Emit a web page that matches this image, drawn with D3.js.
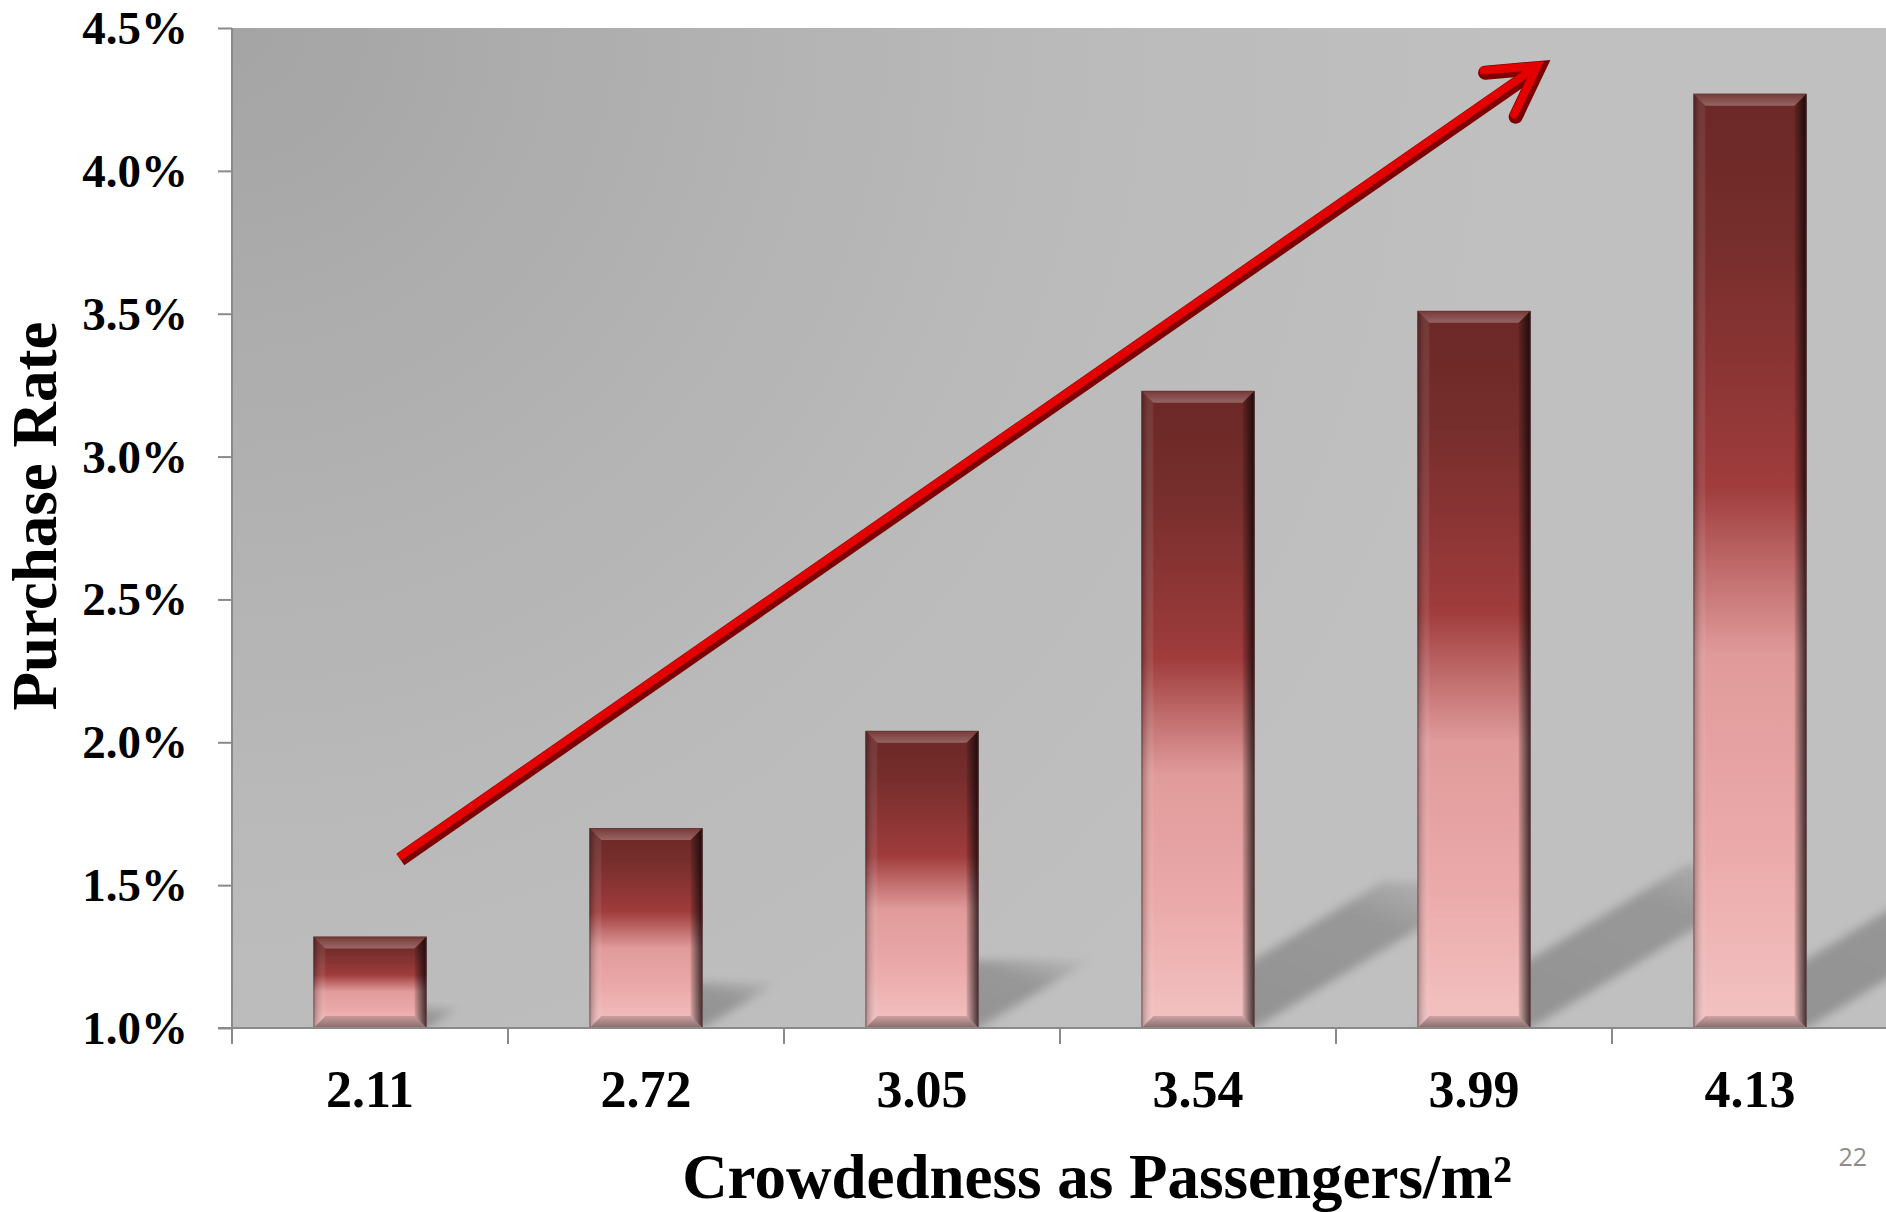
<!DOCTYPE html>
<html>
<head>
<meta charset="utf-8">
<script src="https://cdn.jsdelivr.net/npm/d3@7"></script>
<style>
  html, body { margin: 0; padding: 0; background: #ffffff; }
  svg { display: block; }
  .serif { font-family: "Liberation Serif", "Times New Roman", serif; font-weight: bold; fill: #000; }
</style>
</head>
<body>
<svg id="chart" width="1886" height="1212"></svg>
<script>
// ---- data ----
const categories = ["2.11", "2.72", "3.05", "3.54", "3.99", "4.13"];
const purchaseRate = [1.32, 1.70, 2.04, 3.23, 3.51, 4.27];   // percent
const yTickValues = [1.0, 1.5, 2.0, 2.5, 3.0, 3.5, 4.0, 4.5];
// trend arrow: position in category-index units, rate in percent
const trendTail = { pos: 0.11, rate: 1.59 };
const trendHead = { pos: 4.235, rate: 4.36 };

const xTitle = "Crowdedness as Passengers/m\u00B2";
const yTitle = "Purchase Rate";
const pageNumber = "22";

// ---- layout ----
const W = 1886, H = 1212;
const plotLeft = 232, plotTop = 28, plotBottom = 1028;
const step = 276;

const svg = d3.select("#chart");
const defs = svg.append("defs");

const x = d3.scaleBand()
  .domain(categories)
  .range([plotLeft, plotLeft + step * categories.length])
  .paddingInner(0.59)
  .paddingOuter(0.295);
const y = d3.scaleLinear().domain([1.0, 4.5]).range([plotBottom, plotTop]);
const xIndex = d3.scaleLinear()
  .domain([0, categories.length - 1])
  .range([x(categories[0]) + x.bandwidth() / 2, x(categories[categories.length - 1]) + x.bandwidth() / 2]);

// ---- gradients & filters ----
const bg = defs.append("radialGradient").attr("id", "bgGrad")
  .attr("gradientUnits", "userSpaceOnUse")
  .attr("cx", plotLeft).attr("cy", plotTop).attr("r", 1300);
[[0, "#a4a4a4"], [0.3, "#afafaf"], [0.6, "#b9b9b9"], [0.8, "#bdbdbd"], [1, "#c0c0c0"]]
  .forEach(([o, c]) => bg.append("stop").attr("offset", o).attr("stop-color", c));

const barGrad = defs.append("linearGradient").attr("id", "barGrad")
  .attr("x1", 0).attr("y1", 0).attr("x2", 0).attr("y2", 1);
[[0, "#6a2826"], [0.16, "#762e2c"], [0.32, "#8f3636"], [0.42, "#a03c3c"],
 [0.51, "#c06c6c"], [0.6, "#e09a9a"], [0.8, "#eba9a9"], [1, "#f3c2c2"]]
  .forEach(([o, c]) => barGrad.append("stop").attr("offset", o).attr("stop-color", c));

const rightBevel = defs.append("linearGradient").attr("id", "rightBevel")
  .attr("x1", 0).attr("y1", 0).attr("x2", 1).attr("y2", 0);
rightBevel.append("stop").attr("offset", 0).attr("stop-color", "#000").attr("stop-opacity", 0.1);
rightBevel.append("stop").attr("offset", 1).attr("stop-color", "#000").attr("stop-opacity", 0.75);

const leftBevel = defs.append("linearGradient").attr("id", "leftBevel")
  .attr("x1", 0).attr("y1", 0).attr("x2", 1).attr("y2", 0);
leftBevel.append("stop").attr("offset", 0).attr("stop-color", "#000").attr("stop-opacity", 0.3);
leftBevel.append("stop").attr("offset", 1).attr("stop-color", "#fff").attr("stop-opacity", 0.06);

const topBevel = defs.append("linearGradient").attr("id", "topBevel")
  .attr("x1", 0).attr("y1", 0).attr("x2", 0).attr("y2", 1);
topBevel.append("stop").attr("offset", 0).attr("stop-color", "#fff").attr("stop-opacity", 0.08);
topBevel.append("stop").attr("offset", 1).attr("stop-color", "#fff").attr("stop-opacity", 0.28);

const bottomBevel = defs.append("linearGradient").attr("id", "bottomBevel")
  .attr("x1", 0).attr("y1", 0).attr("x2", 0).attr("y2", 1);
bottomBevel.append("stop").attr("offset", 0).attr("stop-color", "#000").attr("stop-opacity", 0.15);
bottomBevel.append("stop").attr("offset", 1).attr("stop-color", "#000").attr("stop-opacity", 0.45);

const shadowGrad = defs.append("linearGradient").attr("id", "shadowGrad")
  .attr("x1", 0).attr("y1", 1).attr("x2", 1).attr("y2", 0);
shadowGrad.append("stop").attr("offset", 0).attr("stop-color", "#000").attr("stop-opacity", 0.24);
shadowGrad.append("stop").attr("offset", 0.7).attr("stop-color", "#000").attr("stop-opacity", 0.21);
shadowGrad.append("stop").attr("offset", 1).attr("stop-color", "#000").attr("stop-opacity", 0.02);

defs.append("filter").attr("id", "soft")
  .attr("x", "-20%").attr("y", "-20%").attr("width", "140%").attr("height", "140%")
  .append("feGaussianBlur").attr("stdDeviation", 5);

defs.append("clipPath").attr("id", "plotClip")
  .append("rect").attr("x", plotLeft).attr("y", plotTop)
  .attr("width", W - plotLeft).attr("height", plotBottom - plotTop);

// ---- plot background ----
svg.append("rect")
  .attr("x", plotLeft).attr("y", plotTop)
  .attr("width", W - plotLeft).attr("height", plotBottom - plotTop)
  .attr("fill", "url(#bgGrad)");

const bars = categories.map((c, i) => ({ cat: c, value: purchaseRate[i] }));

// ---- floor shadows cast up and to the right ----
const shA = 0.378, shB = 0.229;
svg.append("g").attr("clip-path", "url(#plotClip)")
  .selectAll("polygon").data(bars).join("polygon")
  .attr("points", d => {
    const x0 = x(d.cat), x1 = x0 + x.bandwidth();
    const h = y(1.0) - y(d.value);
    return [[x0, plotBottom], [x1, plotBottom],
            [x1 + shA * h, plotBottom - shB * h], [x0 + shA * h, plotBottom - shB * h]]
      .map(p => p.join(",")).join(" ");
  })
  .attr("fill", "url(#shadowGrad)")
  .attr("filter", "url(#soft)");

// ---- bevelled bars ----
const bev = 12;
const barG = svg.append("g").selectAll("g").data(bars).join("g");
barG.each(function (d) {
  const g = d3.select(this);
  const x0 = x(d.cat), x1 = x0 + x.bandwidth();
  const y0 = y(d.value), y1 = y(1.0);
  const pts = a => a.map(p => p.join(",")).join(" ");
  g.append("rect").attr("x", x0).attr("y", y0)
    .attr("width", x1 - x0).attr("height", y1 - y0)
    .attr("fill", "url(#barGrad)");
  g.append("polygon").attr("points", pts([[x0, y0], [x1, y0], [x1 - bev, y0 + bev], [x0 + bev, y0 + bev]]))
    .attr("fill", "url(#topBevel)");
  g.append("polygon").attr("points", pts([[x0, y1], [x1, y1], [x1 - bev, y1 - bev], [x0 + bev, y1 - bev]]))
    .attr("fill", "url(#bottomBevel)");
  g.append("polygon").attr("points", pts([[x0, y0], [x0 + bev, y0 + bev], [x0 + bev, y1 - bev], [x0, y1]]))
    .attr("fill", "url(#leftBevel)");
  g.append("polygon").attr("points", pts([[x1, y0], [x1, y1], [x1 - bev, y1 - bev], [x1 - bev, y0 + bev]]))
    .attr("fill", "url(#rightBevel)");
  g.append("rect").attr("x", x0 + 0.5).attr("y", y0 + 0.5)
    .attr("width", x1 - x0 - 1).attr("height", y1 - y0 - 1)
    .attr("fill", "none").attr("stroke", "#5b3434").attr("stroke-opacity", 0.6).attr("stroke-width", 1);
});

// ---- axes ----
const axisColor = "#8a8a8a";
const yAxis = d3.axisLeft(y).tickValues(yTickValues).tickSize(14).tickSizeOuter(0).tickPadding(30)
  .tickFormat(d => d.toFixed(1) + "%");
const yG = svg.append("g").attr("transform", `translate(${plotLeft},0)`).call(yAxis);
yG.select(".domain").remove();
yG.selectAll(".tick line").attr("stroke", axisColor).attr("stroke-width", 2);
yG.selectAll(".tick text").attr("class", "serif").attr("font-size", 47)
  .attr("dy", "0.33em").attr("fill", "#000");
yG.attr("font-family", null).attr("font-size", null);

const xAxis = d3.axisBottom(x).tickSize(0).tickSizeOuter(0).tickPadding(0);
const xG = svg.append("g").attr("transform", `translate(0,${plotBottom})`).call(xAxis);
xG.select(".domain").remove();
xG.selectAll(".tick text").attr("class", "serif").attr("font-size", 52)
  .attr("y", 79).attr("dy", 0).attr("fill", "#000");
xG.attr("font-family", null).attr("font-size", null);

// separators between categories
const sepG = svg.append("g");
sepG.selectAll("line").data(categories).join("line")
  .attr("x1", d => x(d) - x.step() * x.paddingInner() / 2)
  .attr("x2", d => x(d) - x.step() * x.paddingInner() / 2)
  .attr("y1", plotBottom).attr("y2", plotBottom + 16)
  .attr("stroke", axisColor).attr("stroke-width", 2);

svg.append("line").attr("x1", plotLeft).attr("x2", plotLeft)
  .attr("y1", plotTop).attr("y2", plotBottom + 16)
  .attr("stroke", axisColor).attr("stroke-width", 2);
svg.append("line").attr("x1", plotLeft - 14).attr("x2", W)
  .attr("y1", plotBottom).attr("y2", plotBottom)
  .attr("stroke", axisColor).attr("stroke-width", 2);

// ---- trend arrow ----
const tx = xIndex(trendTail.pos), ty = y(trendTail.rate);
const hx = xIndex(trendHead.pos), hy = y(trendHead.rate);
const ang = Math.atan2(ty - hy, tx - hx);       // direction pointing back from the tip
const barb = 54, spread = 0.52;
const b1 = [hx + barb * Math.cos(ang - spread), hy + barb * Math.sin(ang - spread)];
const b2 = [hx + barb * Math.cos(ang + spread), hy + barb * Math.sin(ang + spread)];
const arrowG = svg.append("g");
const line = d3.line();
const nx = Math.sin(ang) * 2.6, ny = -Math.cos(ang) * 2.6; // offset toward upper-left face
function arrowStroke(dx, dy, color, width, cap) {
  arrowG.append("path").attr("d", line([[tx + dx, ty + dy], [hx + dx, hy + dy]]))
    .attr("stroke", color).attr("stroke-width", width).attr("fill", "none")
    .attr("stroke-linecap", "butt");
  arrowG.append("path").attr("d", line([[b1[0] + dx, b1[1] + dy], [hx + dx, hy + dy], [b2[0] + dx, b2[1] + dy]]))
    .attr("stroke", color).attr("stroke-width", width).attr("fill", "none")
    .attr("stroke-linecap", cap).attr("stroke-linejoin", "miter");
}
arrowStroke(0, 0, "#7c0000", 14, "round");
arrowStroke(-nx, -ny, "#e50000", 8, "round");

// ---- titles ----
svg.append("text").attr("class", "serif").attr("font-size", 63)
  .attr("text-anchor", "middle")
  .attr("transform", `translate(56,516) rotate(-90)`)
  .text(yTitle);
svg.append("text").attr("class", "serif").attr("font-size", 63)
  .attr("text-anchor", "middle")
  .attr("x", 1097).attr("y", 1198)
  .text(xTitle);

svg.append("text")
  .attr("x", 1867).attr("y", 1166).attr("text-anchor", "end")
  .attr("font-family", "'Open Sans', 'Liberation Sans', sans-serif")
  .attr("font-size", 25).attr("fill", "#8c8c8c")
  .text(pageNumber);
</script>
</body>
</html>
